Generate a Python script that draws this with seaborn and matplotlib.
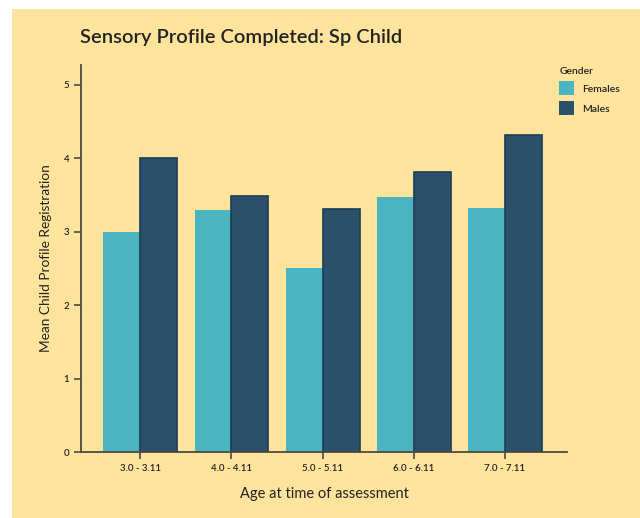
import matplotlib
matplotlib.use("Agg")
import matplotlib.pyplot as plt
import seaborn as sns
import pandas as pd
from matplotlib.patches import Rectangle

categories = ["3.0 - 3.11", "4.0 - 4.11", "5.0 - 5.11", "6.0 - 6.11", "7.0 - 7.11"]
females = [3.0, 3.3, 2.5, 3.47, 3.32]
males = [4.0, 3.48, 3.31, 3.81, 4.32]
genders = ["Females", "Males"]

df = pd.DataFrame({
    "age": categories * 2,
    "value": females + males,
    "Gender": ["Females"] * len(categories) + ["Males"] * len(categories),
})

sns.set_theme(style="ticks")
plt.rcParams["font.family"] = ["Lato", "DejaVu Sans"]
plt.rcParams["font.weight"] = "semibold"

bg = "#FDE39C"
fig = plt.figure(figsize=(6.4, 5.18), dpi=100, facecolor="white")
fig.patches.append(Rectangle((12 / 640, 0), 1, 1 - 9 / 518, transform=fig.transFigure,
                             facecolor=bg, edgecolor="none", zorder=-10))
ax = fig.add_axes([81 / 640, 66 / 518, (567 - 81) / 640, (452 - 65) / 518])
ax.set_facecolor(bg)

palette = {"Females": "#4AB5C1", "Males": "#2B5069"}
sns.barplot(data=df, x="age", y="value", hue="Gender", hue_order=genders,
            palette=palette, width=0.81, saturation=1, ax=ax, legend=True)

for bar_container, g in zip(ax.containers, genders):
    for p in bar_container:
        if g == "Males":
            p.set_edgecolor("#1B3C55")
            p.set_linewidth(1.2)
        else:
            p.set_edgecolor("none")

ax.set_xlim(-0.65, 4.68)
ax.set_ylim(0, 5.27)
ax.set_yticks([0, 1, 2, 3, 4, 5])
for s in ["top", "right"]:
    ax.spines[s].set_visible(False)
for s in ["left", "bottom"]:
    ax.spines[s].set_color("#4a4a40")
    ax.spines[s].set_linewidth(1.3)
ax.tick_params(axis="both", colors="#4a4a40", length=5, width=1.2, labelsize=7,
               labelcolor="#222222")

ax.set_xlabel("Age at time of assessment", fontsize=10.5, color="#222222", labelpad=10)
ax.set_ylabel("Mean Child Profile Registration", fontsize=9.8, color="#222222", labelpad=8)

fig.text(80 / 640, 1 - 38 / 518, "Sensory Profile Completed: Sp Child", fontsize=14.5,
         color="#222222", ha="left", va="center")

leg = ax.legend(title="Gender", loc="upper left", bbox_to_anchor=(0.965, 1.02),
                frameon=False, fontsize=7.5, title_fontsize=7.5, handlelength=1.4,
                handleheight=1.7, handletextpad=0.8, labelspacing=0.55, alignment="left")
for h in leg.legend_handles:
    h.set_edgecolor("none")
leg.get_title().set_color("#222222")
for t in leg.get_texts():
    t.set_color("#222222")

fig.savefig("out.png", dpi=100, facecolor=fig.get_facecolor())
